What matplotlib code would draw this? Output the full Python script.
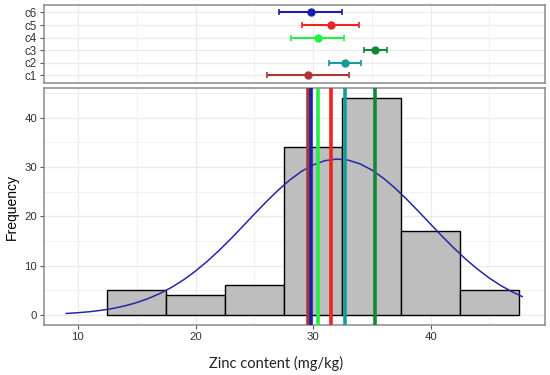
import matplotlib
matplotlib.use("Agg")
import matplotlib.pyplot as plt
from matplotlib.ticker import MultipleLocator

plt.rcParams["font.family"] = ["Liberation Sans", "DejaVu Sans"]

# histogram data
bin_edges = [12.5, 17.5, 22.5, 27.5, 32.5, 37.5, 42.5, 47.5]
counts = [5, 4, 6, 34, 44, 17, 5]

# fitted curve
curve_x = [9, 10, 11, 12, 13, 14, 15, 16, 17, 18, 19, 20, 21, 22, 23, 24, 25, 26, 27, 28,
           29, 30, 31, 32, 33, 34, 35, 36, 37, 38, 39, 40, 41, 42, 43, 44, 45, 46, 47, 47.8]
curve_y = [0.31, 0.46, 0.67, 0.96, 1.34, 1.85, 2.52, 3.35, 4.39, 5.65, 7.15, 8.90, 10.88,
           13.07, 15.43, 17.91, 20.43, 22.90, 25.23, 27.32, 29.08, 30.42, 31.27, 31.60,
           31.38, 30.63, 29.38, 27.70, 25.67, 23.38, 20.93, 18.41, 15.92, 13.53, 11.30,
           9.28, 7.48, 5.93, 4.62, 3.74]

# group means and intervals
groups = ["c1", "c2", "c3", "c4", "c5", "c6"]
means = [29.6, 32.7, 35.3, 30.4, 31.5, 29.8]
lower = [26.1, 31.4, 34.3, 28.15, 29.1, 27.1]
upper = [33.1, 34.1, 36.3, 32.6, 33.9, 32.5]
colors = ["#A83838", "#179A9A", "#12893A", "#22EE44", "#EE2424", "#1C1CB0"]

fig = plt.figure(figsize=(5.5, 3.75), dpi=100)
ax_top = fig.add_axes([0.08, 0.779, 0.911, 0.208])
ax = fig.add_axes([0.08, 0.1333, 0.911, 0.632])

xlim = (7.11, 49.74)
border = "#8A8A8A"
gridc = "#EBEBEB"


def style(a):
    for s in a.spines.values():
        s.set_color(border)
        s.set_linewidth(1.1)
    a.tick_params(colors="#555555", labelcolor="#333333", length=3, width=0.8, pad=2)
    a.tick_params(which="minor", length=0)
    a.set_axisbelow(True)


# top panel
for i, g in enumerate(groups):
    y = i + 1
    ax_top.errorbar(means[i], y, xerr=[[means[i] - lower[i]], [upper[i] - means[i]]],
                    fmt="o", color=colors[i], markersize=5, elinewidth=1.5,
                    capsize=2, capthick=1.2)
ax_top.set_xlim(*xlim)
ax_top.set_ylim(0.4, 6.6)
ax_top.set_yticks(range(1, 7))
ax_top.set_yticklabels(groups, fontsize=8.3, color="#333333")
ax_top.xaxis.set_major_locator(MultipleLocator(10))
ax_top.xaxis.set_minor_locator(MultipleLocator(5))
ax_top.grid(True, which="major", color=gridc, lw=0.9)
ax_top.grid(True, which="minor", axis="x", color=gridc, lw=0.5)
style(ax_top)
ax_top.tick_params(axis="x", which="both", length=0, labelbottom=False)

# bottom panel
widths = [bin_edges[i + 1] - bin_edges[i] for i in range(len(counts))]
ax.bar(bin_edges[:-1], counts, width=widths, align="edge", color="#BEBEBE",
       edgecolor="black", linewidth=1.0, zorder=2)
ax.plot(curve_x, curve_y, color="#2626A6", lw=1.1, zorder=3)
for i in [0, 5, 3, 4, 1, 2]:
    ax.axvline(means[i], color=colors[i], lw=2.6, zorder=4)

ax.set_xlim(*xlim)
ax.set_ylim(-2.03, 46.0)
ax.xaxis.set_major_locator(MultipleLocator(10))
ax.xaxis.set_minor_locator(MultipleLocator(5))
ax.yaxis.set_major_locator(MultipleLocator(10))
ax.yaxis.set_minor_locator(MultipleLocator(5))
ax.grid(True, which="major", color=gridc, lw=0.9)
ax.grid(True, which="minor", color=gridc, lw=0.5)
style(ax)
ax.tick_params(labelsize=8.2)
fig.text(0.022, 0.448, "Frequency", rotation=90, ha="center", va="center",
         fontsize=10, color="black")
fig.text(0.502, 0.032, "Zinc content (mg/kg)", ha="center", va="center",
         fontsize=10.5, color="#222222", family=["Lato", "DejaVu Sans"])

fig.savefig("out.png", dpi=100)
